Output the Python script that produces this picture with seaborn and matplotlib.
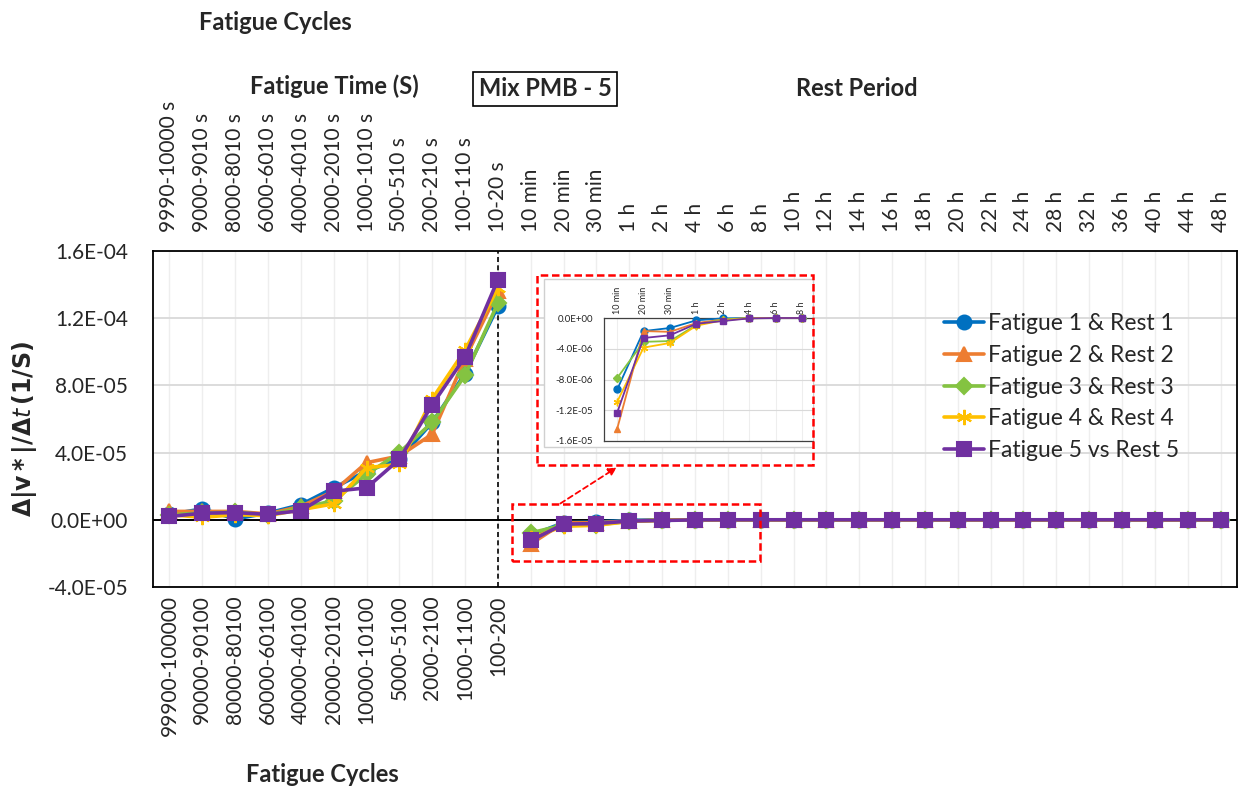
import numpy as np
import matplotlib
matplotlib.use("Agg")
import matplotlib.pyplot as plt
import seaborn as sns
from matplotlib.patches import Rectangle, FancyArrowPatch
from matplotlib.lines import Line2D
from matplotlib.ticker import FuncFormatter

# ---------------- data ----------------
time_labels = ["9990-10000 s", "9000-9010 s", "8000-8010 s", "6000-6010 s", "4000-4010 s",
               "2000-2010 s", "1000-1010 s", "500-510 s", "200-210 s", "100-110 s", "10-20 s",
               "10 min", "20 min", "30 min", "1 h", "2 h", "4 h", "6 h", "8 h", "10 h", "12 h",
               "14 h", "16 h", "18 h", "20 h", "22 h", "24 h", "28 h", "32 h", "36 h", "40 h",
               "44 h", "48 h"]
cycle_labels = ["99900-100000", "90000-90100", "80000-80100", "60000-60100", "40000-40100",
                "20000-20100", "10000-10100", "5000-5100", "2000-2100", "1000-1100", "100-200"]
inset_labels = ["10 min", "20 min", "30 min", "1 h", "2 h", "4 h", "6 h", "8 h"]
series_names = ["Fatigue 1 & Rest 1", "Fatigue 2 & Rest 2", "Fatigue 3 & Rest 3",
                "Fatigue 4 & Rest 4", "Fatigue 5 vs Rest 5"]

fatigue_1 = [3.2e-6, 6.5e-6, 0.5e-6, 4.0e-6, 9.0e-6, 1.9e-5, 2.9e-5, 3.6e-5, 5.8e-5, 8.7e-5, 1.27e-4]
fatigue_2 = [5.0e-6, 5.0e-6, 5.0e-6, 3.5e-6, 8.0e-6, 1.7e-5, 3.4e-5, 3.8e-5, 5.1e-5, 9.6e-5, 1.36e-4]
fatigue_3 = [3.0e-6, 4.0e-6, 4.5e-6, 3.0e-6, 7.0e-6, 1.14e-5, 2.7e-5, 4.0e-5, 5.8e-5, 8.6e-5, 1.29e-4]
fatigue_4 = [3.0e-6, 1.5e-6, 3.0e-6, 2.5e-6, 6.0e-6, 9.5e-6, 3.1e-5, 3.3e-5, 7.2e-5, 1.01e-4, 1.38e-4]
fatigue_5 = [2.0e-6, 3.9e-6, 4.3e-6, 3.2e-6, 5.5e-6, 1.7e-5, 1.9e-5, 3.6e-5, 6.85e-5, 9.7e-5, 1.43e-4]

rest_1 = [-9.3e-6, -1.7e-6, -1.3e-6, -3.0e-7, -5.0e-8, 0.0, 0.0, 0.0, 0.0, 0.0, 0.0,
          0.0, 0.0, 0.0, 0.0, 0.0, 0.0, 0.0, 0.0, 0.0, 0.0, 0.0]
rest_2 = [-1.44e-5, -1.7e-6, -1.8e-6, -6.5e-7, -2.0e-7, -2.0e-8, 0.0, 0.0, 0.0, 0.0, 0.0,
          0.0, 0.0, 0.0, 0.0, 0.0, 0.0, 0.0, 0.0, 0.0, 0.0, 0.0]
rest_3 = [-7.8e-6, -3.1e-6, -3.0e-6, -9.0e-7, -2.0e-7, -2.0e-8, 0.0, 0.0, 0.0, 0.0, 0.0,
          0.0, 0.0, 0.0, 0.0, 0.0, 0.0, 0.0, 0.0, 0.0, 0.0, 0.0]
rest_4 = [-1.09e-5, -3.85e-6, -3.25e-6, -1.0e-6, -3.0e-7, -3.0e-8, 0.0, 0.0, 0.0, 0.0, 0.0,
          0.0, 0.0, 0.0, 0.0, 0.0, 0.0, 0.0, 0.0, 0.0, 0.0, 0.0]
rest_5 = [-1.23e-5, -2.6e-6, -2.25e-6, -7.5e-7, -4.0e-7, -5.0e-8, 0.0, 0.0, 0.0, 0.0, 0.0,
          0.0, 0.0, 0.0, 0.0, 0.0, 0.0, 0.0, 0.0, 0.0, 0.0, 0.0]

y_ticks = [-4e-5, 0.0, 4e-5, 8e-5, 1.2e-4, 1.6e-4]
inset_y_ticks = [-1.6e-5, -1.2e-5, -8e-6, -4e-6, 0.0]

fatigue_all = [fatigue_1, fatigue_2, fatigue_3, fatigue_4, fatigue_5]
rest_all = [rest_1, rest_2, rest_3, rest_4, rest_5]

# ---------------- style ----------------
sns.set_style("white")
plt.rcParams['font.family'] = ['Lato', 'DejaVu Sans']
plt.rcParams['mathtext.fontset'] = 'dejavusans'

colors = ["#0070C0", "#ED7D31", "#84C341", "#FFC000", "#7030A0"]
markers = ["o", "^", "D", (6, 2, 0), "s"]
msizes = [10, 10, 8, 11, 10]

W, H = 1240, 791
fig = plt.figure(figsize=(W / 100, H / 100), dpi=100)
ax = fig.add_axes([153 / W, 1 - 587 / H, (1237 - 153) / W, (587 - 251) / H])

n = len(time_labels)
nf = len(cycle_labels)
xpos = np.arange(n)
fat_x = xpos[:nf]
rest_x = xpos[nf:]

for i in range(5):
    for xs, ys in ((fat_x, fatigue_all[i]), (rest_x, rest_all[i])):
        sns.lineplot(x=xs, y=ys, ax=ax, color=colors[i], marker=markers[i],
                     markersize=msizes[i], markeredgecolor=colors[i], markeredgewidth=1.5,
                     linewidth=2.6, legend=False, zorder=3 + i)

ax.set_xlim(-0.5, n - 0.5)
ax.set_ylim(y_ticks[0], y_ticks[-1])
ax.set_yticks(y_ticks)
ax.yaxis.set_major_formatter(FuncFormatter(lambda v, p: f"{v:.1E}"))
ax.set_xticks(xpos)
ax.set_xticklabels(cycle_labels + [""] * (n - nf), rotation=90, fontsize=15, va="top")
ax.tick_params(axis="x", length=0, pad=6)
ax.tick_params(axis="y", length=0, pad=18, labelsize=15)
ax.grid(axis="y", color="#D9D9D9", lw=1.3)
ax.grid(axis="x", color="#EEEEEE", lw=1.0)
ax.set_axisbelow(True)
for s in ax.spines.values():
    s.set_color("black")
    s.set_linewidth(1.3)
ax.axhline(0, color="black", lw=1.4, zorder=2)
ax.axvline(10, color="black", ls=(0, (3, 2)), lw=1.2, zorder=2)
ax.set_xlabel("")
ax.set_ylabel("")

# top axis
ax2 = ax.twiny()
ax2.set_xlim(ax.get_xlim())
ax2.set_xticks(xpos)
ax2.set_xticklabels(time_labels, rotation=90, fontsize=15, va="bottom")
ax2.tick_params(axis="x", length=0, pad=14)
for s in ax2.spines.values():
    s.set_visible(False)

# main red dashed box
ax.add_patch(Rectangle((10.43, -2.44e-5), 7.56, 3.39e-5, fill=False, ec="red",
                       ls=(0, (3, 1.5)), lw=1.8, zorder=10))

# legend
handles = [Line2D([], [], color=colors[i], marker=markers[i], markersize=msizes[i],
                  markeredgecolor=colors[i], markeredgewidth=1.5, lw=2.6)
           for i in range(5)]
fig.legend(handles, series_names, loc="upper left", bbox_to_anchor=(944 / W, 1 - 313 / H),
           frameon=False, fontsize=16.5, handlelength=1.75, handletextpad=0.15,
           labelspacing=0.47, borderpad=0, borderaxespad=0)

# inset panel
fig.add_artist(Rectangle((544 / W, 1 - 447 / H), (813 - 544) / W, (447 - 279) / H,
                         transform=fig.transFigure, fc="white", ec="#D0D0D0", lw=1, zorder=1))
axin = fig.add_axes([604 / W, 1 - 441 / H, 209 / W, 123 / H])
axin.set_zorder(2)
ix = np.arange(len(inset_labels))
for i in range(5):
    sns.lineplot(x=ix, y=rest_all[i][:len(inset_labels)], ax=axin, color=colors[i],
                 marker=markers[i], markersize=msizes[i] * 0.5, markeredgecolor=colors[i],
                 markeredgewidth=1, linewidth=1.3, legend=False, zorder=3 + i, clip_on=False)
axin.set_xlim(-0.5, len(inset_labels) - 0.58)
axin.set_ylim(inset_y_ticks[0], inset_y_ticks[-1])
axin.set_yticks(inset_y_ticks)
axin.yaxis.set_major_formatter(FuncFormatter(lambda v, p: f"{v:.1E}"))
axin.set_xticks(ix)
axin.set_xticklabels(inset_labels, rotation=90, fontsize=6.5)
axin.xaxis.tick_top()
axin.tick_params(axis="x", length=0, pad=3)
axin.tick_params(axis="y", length=0, pad=8, labelsize=7)
axin.grid(axis="y", color="#D9D9D9", lw=0.8)
axin.grid(axis="x", color="#EEEEEE", lw=0.8)
axin.set_axisbelow(True)
for s in axin.spines.values():
    s.set_color("#404040")
    s.set_linewidth(0.9)
axin.spines["right"].set_visible(False)
axin.set_xlabel("")
axin.set_ylabel("")

fig.add_artist(Rectangle((537 / W, 1 - 465 / H), (813 - 537) / W, (465 - 275) / H,
                         transform=fig.transFigure, fill=False, ec="red",
                         ls=(0, (3, 1.5)), lw=1.8, zorder=5))
fig.add_artist(FancyArrowPatch((558 / W, 1 - 505 / H), (619 / W, 1 - 466 / H),
                               transform=fig.transFigure, arrowstyle="-|>",
                               mutation_scale=12, color="red", ls=(0, (3, 2)), lw=1.3, zorder=5))

# texts
bold = dict(fontsize=17, fontweight="bold", ha="center", va="center")
fig.text(275 / W, 1 - 22 / H, "Fatigue Cycles", **bold)
fig.text(334 / W, 1 - 86 / H, "Fatigue Time (S)", **bold)
fig.text(857 / W, 1 - 89 / H, "Rest Period", **bold)
fig.text(322 / W, 1 - 774 / H, "Fatigue Cycles", **bold)
fig.text(545 / W, 1 - 89 / H, "Mix PMB - 5", fontsize=17, fontweight="bold",
         ha="center", va="center",
         bbox=dict(boxstyle="square,pad=0.25", fc="white", ec="black", lw=1.2))
fig.text(25 / W, 1 - 429 / H, r"$\mathbf{\Delta|v*|/\Delta}\mathit{t}\,\mathbf{(1/S)}$",
         fontsize=17, rotation=90, ha="center", va="center")

fig.savefig("out.png", dpi=100)
